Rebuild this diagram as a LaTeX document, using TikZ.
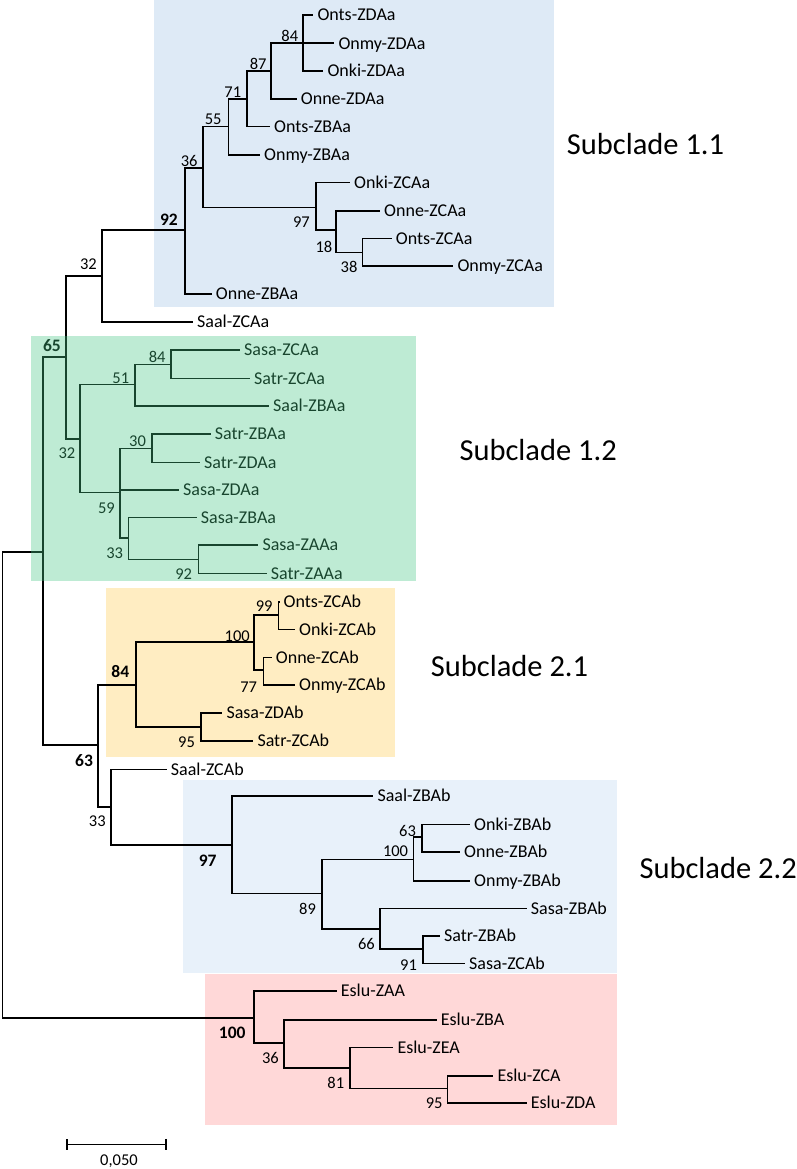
\documentclass[tikz,border=0pt]{standalone}
\usepackage{fontspec}
\setmainfont{Carlito}
\usetikzlibrary{positioning,arrows.meta}
\definecolor{boxblue}{RGB}{222,234,246}
\definecolor{boxgreen}{RGB}{69,198,132}
\definecolor{boxyellow}{RGB}{255,237,194}
\definecolor{boxsky}{RGB}{232,241,250}
\definecolor{boxred}{RGB}{255,216,216}

\begin{document}
\begin{tikzpicture}
[x=1pt,y=-1pt,
branch/.style={draw=black,line width=1.6pt},
tip/.style={anchor=west,inner xsep=4pt,inner ysep=0pt,text height=11.6pt,text depth=0pt,font=\fontsize{18}{20}\selectfont},
boot/.style={inner sep=0pt,text height=10.4pt,text depth=0pt,font=\fontsize{16.5}{18}\selectfont},
bootb/.style={boot,text height=11.1pt,font=\fontsize{17.5}{19}\selectfont\bfseries},
clade/.style={anchor=base west,inner sep=0pt,font=\fontsize{30.5}{34}\selectfont}]
\useasboundingbox (0,0) rectangle (797,1169);

\fill[boxblue] (154,0) rectangle (554,306.7);
\fill[boxyellow] (106,588.3) rectangle (395,756.7);
\fill[boxsky] (183.3,779.5) rectangle (616.7,973.3);
\fill[boxred] (205,974) rectangle (616.7,1125);

\coordinate (root) at (2.5,785);
\coordinate (nA) at (43,552);
\coordinate (n65) at (66,357);
\coordinate (n32a) at (102,276);
\coordinate (n92a) at (185,230);
\coordinate (n36a) at (202.7,168.3);
\coordinate (n55) at (228.3,126.7);
\coordinate (n71) at (246.7,99);
\coordinate (n87) at (271,71);
\coordinate (n84a) at (302.7,43.3);
\coordinate (n97a) at (316,207.3);
\coordinate (n18) at (336,230);
\coordinate (n38) at (362.3,252.3);
\coordinate (n32b) at (80,439);
\coordinate (n51) at (135,384.3);
\coordinate (n84b) at (171,364.3);
\coordinate (n59) at (120,492.3);
\coordinate (n30) at (151.7,448.3);
\coordinate (n33a) at (128.3,537.7);
\coordinate (n92b) at (198.3,559.3);
\coordinate (n63a) at (97.7,745);
\coordinate (n84c) at (135.7,685);
\coordinate (n100a) at (254,641.7);
\coordinate (n99) at (278.3,615);
\coordinate (n77) at (263.3,670);
\coordinate (n95a) at (200.7,726.7);
\coordinate (n33b) at (110.7,806.7);
\coordinate (n97b) at (231.7,845);
\coordinate (n89) at (321.7,893.3);
\coordinate (n100b) at (413.3,859.3);
\coordinate (n63b) at (421.7,836.7);
\coordinate (n66) at (380,929);
\coordinate (n91) at (422.7,949);
\coordinate (n100c) at (254,1017.7);
\coordinate (n36b) at (284,1042.7);
\coordinate (n81) at (350,1067.7);
\coordinate (n95b) at (447.3,1088.3);

\node[tip] (OntsZDAa) at (313.3,15) {Onts-ZDAa};
\node[tip] (OnmyZDAa) at (334.3,43.3) {Onmy-ZDAa};
\node[tip] (OnkiZDAa) at (323.3,71) {Onki-ZDAa};
\node[tip] (OnneZDAa) at (296.7,99) {Onne-ZDAa};
\node[tip] (OntsZBAa) at (270,126.7) {Onts-ZBAa};
\node[tip] (OnmyZBAa) at (260,155) {Onmy-ZBAa};
\node[tip] (OnkiZCAa) at (350,182.7) {Onki-ZCAa};
\node[tip] (OnneZCAa) at (380,210.7) {Onne-ZCAa};
\node[tip] (OntsZCAa) at (391.7,238.3) {Onts-ZCAa};
\node[tip] (OnmyZCAa) at (453.3,266) {Onmy-ZCAa};
\node[tip] (OnneZBAa) at (211.7,294) {Onne-ZBAa};
\node[tip] (SaalZCAa) at (193,321.7) {Saal-ZCAa};
\node[tip] (SasaZCAa) at (240,350) {Sasa-ZCAa};
\node[tip] (SatrZCAa) at (250,378.3) {Satr-ZCAa};
\node[tip] (SaalZBAa) at (269,406) {Saal-ZBAa};
\node[tip] (SatrZBAa) at (210.7,434) {Satr-ZBAa};
\node[tip] (SatrZDAa) at (200,462.3) {Satr-ZDAa};
\node[tip] (SasaZDAa) at (179,490) {Sasa-ZDAa};
\node[tip] (SasaZBAa) at (196.7,517.3) {Sasa-ZBAa};
\node[tip] (SasaZAAa) at (258.3,545) {Sasa-ZAAa};
\node[tip] (SatrZAAa) at (266.7,573.3) {Satr-ZAAa};
\node[tip] (OntsZCAb) at (279.5,601.7) {Onts-ZCAb};
\node[tip] (OnkiZCAb) at (295,629.3) {Onki-ZCAb};
\node[tip] (OnneZCAb) at (271.7,657.3) {Onne-ZCAb};
\node[tip] (OnmyZCAb) at (295,685) {Onmy-ZCAb};
\node[tip] (SasaZDAb) at (222.3,712.7) {Sasa-ZDAb};
\node[tip] (SatrZCAb) at (253.3,741) {Satr-ZCAb};
\node[tip] (SaalZCAb) at (166.7,769.5) {Saal-ZCAb};
\node[tip] (SaalZBAb) at (373.3,796) {Saal-ZBAb};
\node[tip] (OnkiZBAb) at (470,824.3) {Onki-ZBAb};
\node[tip] (OnneZBAb) at (460,851.7) {Onne-ZBAb};
\node[tip] (OnmyZBAb) at (470,880.7) {Onmy-ZBAb};
\node[tip] (SasaZBAb) at (526.7,908.3) {Sasa-ZBAb};
\node[tip] (SatrZBAb) at (440,936) {Satr-ZBAb};
\node[tip] (SasaZCAb) at (465,963.3) {Sasa-ZCAb};
\node[tip] (EsluZAA) at (336.7,990.7) {Eslu-ZAA};
\node[tip] (EsluZBA) at (436.7,1020) {Eslu-ZBA};
\node[tip] (EsluZEA) at (393.3,1047.3) {Eslu-ZEA};
\node[tip] (EsluZCA) at (493.3,1075.7) {Eslu-ZCA};
\node[tip] (EsluZDA) at (526.7,1102.7) {Eslu-ZDA};

\draw[branch] (root) |- (nA) (root) |- (n100c);
\draw[branch] (nA) |- (n65) (nA) |- (n63a);
\draw[branch] (n65) |- (n32a) (n65) |- (n32b);
\draw[branch] (n32a) |- (n92a) (n32a) |- (SaalZCAa.west);
\draw[branch] (n92a) |- (n36a) (n92a) |- (OnneZBAa.west);
\draw[branch] (n36a) |- (n55) (n36a) |- (n97a);
\draw[branch] (n55) |- (n71) (n55) |- (OnmyZBAa.west);
\draw[branch] (n71) |- (n87) (n71) |- (OntsZBAa.west);
\draw[branch] (n87) |- (n84a) (n87) |- (OnneZDAa.west);
\draw[branch] (n84a) |- (OntsZDAa.west) (n84a) |- (OnmyZDAa.west) (n84a) |- (OnkiZDAa.west);
\draw[branch] (n97a) |- (OnkiZCAa.west) (n97a) |- (n18);
\draw[branch] (n18) |- (OnneZCAa.west) (n18) |- (n38);
\draw[branch] (n38) |- (OntsZCAa.west) (n38) |- (OnmyZCAa.west);
\draw[branch] (n32b) |- (n51) (n32b) |- (n59);
\draw[branch] (n51) |- (n84b) (n51) |- (SaalZBAa.west);
\draw[branch] (n84b) |- (SasaZCAa.west) (n84b) |- (SatrZCAa.west);
\draw[branch] (n59) |- (n30) (n59) |- (SasaZDAa.west) (n59) |- (n33a);
\draw[branch] (n30) |- (SatrZBAa.west) (n30) |- (SatrZDAa.west);
\draw[branch] (n33a) |- (SasaZBAa.west) (n33a) |- (n92b);
\draw[branch] (n92b) |- (SasaZAAa.west) (n92b) |- (SatrZAAa.west);
\draw[branch] (n63a) |- (n84c) (n63a) |- (n33b);
\draw[branch] (n84c) |- (n100a) (n84c) |- (n95a);
\draw[branch] (n100a) |- (n99) (n100a) |- (n77);
\draw[branch] (n99) |- (OntsZCAb.west) (n99) |- (OnkiZCAb.west);
\draw[branch] (n77) |- (OnneZCAb.west) (n77) |- (OnmyZCAb.west);
\draw[branch] (n95a) |- (SasaZDAb.west) (n95a) |- (SatrZCAb.west);
\draw[branch] (n33b) |- (SaalZCAb.west) (n33b) |- (n97b);
\draw[branch] (n97b) |- (SaalZBAb.west) (n97b) |- (n89);
\draw[branch] (n89) |- (n100b) (n89) |- (n66);
\draw[branch] (n100b) |- (n63b) (n100b) |- (OnmyZBAb.west);
\draw[branch] (n63b) |- (OnkiZBAb.west) (n63b) |- (OnneZBAb.west);
\draw[branch] (n66) |- (SasaZBAb.west) (n66) |- (n91);
\draw[branch] (n91) |- (SatrZBAb.west) (n91) |- (SasaZCAb.west);
\draw[branch] (n100c) |- (EsluZAA.west) (n100c) |- (n36b);
\draw[branch] (n36b) |- (EsluZBA.west) (n36b) |- (n81);
\draw[branch] (n81) |- (EsluZEA.west) (n81) |- (n95b);
\draw[branch] (n95b) |- (EsluZCA.west) (n95b) |- (EsluZDA.west);

\node[bootb, above left=4.5pt and 7pt of n92a] (b92a) {92};
\node[boot, above left=6.8pt and 5pt of n32a] (b32a) {32};
\node[bootb, above left=5.5pt and 5pt of n65] (b65) {65};
\node[boot, below left=8.8pt and 4.5pt of n32b] (b32b) {32};
\node[boot, above left=1.8pt and 5.3pt of n84b] (b84b) {84};
\node[boot, above left=0.8pt and 5.6pt of n51] (b51) {51};
\node[boot, above left=2pt and 5.6pt of n30] (b30) {30};
\node[boot, below left=10.8pt and 5pt of n59] (b59) {59};
\node[boot, below left=10.4pt and 5pt of n33a] (b33a) {33};
\node[boot, below left=9.5pt and 6pt of n92b] (b92b) {92};
\node[boot, above left=2pt and 5pt of n36a] (b36a) {36};
\node[boot, above left=1.5pt and 6.6pt of n55] (b55) {55};
\node[boot, above left=1pt and 5.3pt of n71] (b71) {71};
\node[boot, above left=0.8pt and 4.3pt of n87] (b87) {87};
\node[boot, above left=1.4pt and 4.3pt of n84a] (b84a) {84};
\node[boot, below left=9.2pt and 6pt of n97a] (b97a) {97};
\node[boot, below left=11.5pt and 3.5pt of n18] (b18) {18};
\node[boot, below left=9.2pt and 4.7pt of n38] (b38) {38};
\node[boot, above left=0.5pt and 4pt of n100a] (b100a) {100};
\node[boot, above left=3pt and 5.6pt of n99] (b99) {99};
\node[boot, below left=11.5pt and 6pt of n77] (b77) {77};
\node[bootb, above left=7.7pt and 6.3pt of n84c] (b84c) {84};
\node[boot, below left=10.4pt and 5.6pt of n95a] (b95a) {95};
\node[bootb, below left=10.4pt and 4.6pt of n63a] (b63a) {63};
\node[boot, below left=9pt and 4.8pt of n33b] (b33b) {33};
\node[bootb, below left=10.2pt and 15pt of n97b] (b97b) {97};
\node[boot, below left=10.8pt and 5.6pt of n89] (b89) {89};
\node[boot, above left=2.4pt and 5pt of n100b] (b100b) {100};
\node[boot, above left=0.5pt and 5.6pt of n63b] (b63b) {63};
\node[boot, below left=10pt and 5pt of n66] (b66) {66};
\node[boot, below left=10.8pt and 5.6pt of n91] (b91) {91};
\node[bootb, below left=9.5pt and 8.2pt of n100c] (b100c) {100};
\node[boot, below left=10.4pt and 5pt of n36b] (b36b) {36};
\node[boot, below left=10.4pt and 5.6pt of n81] (b81) {81};
\node[boot, below left=9.8pt and 4.6pt of n95b] (b95b) {95};

\fill[boxgreen, fill opacity=.35] (31,336) rectangle (415.7,581);

\node[clade] (sc11) at (566.7,155) {Subclade 1.1};
\node[clade] (sc12) at (459.3,460) {Subclade 1.2};
\node[clade] (sc21) at (430.7,676.7) {Subclade 2.1};
\node[clade] (sc22) at (639.3,878.3) {Subclade 2.2};

\coordinate (sbL) at (66,1144.3);
\coordinate (sbR) at (166.7,1144.3);
\draw[branch, {Bar[width=11pt]}-{Bar[width=11pt]}] (sbL) -- (sbR);
\node[boot] (sbtext) at (119,1160) {0,050};
\end{tikzpicture}
\end{document}
